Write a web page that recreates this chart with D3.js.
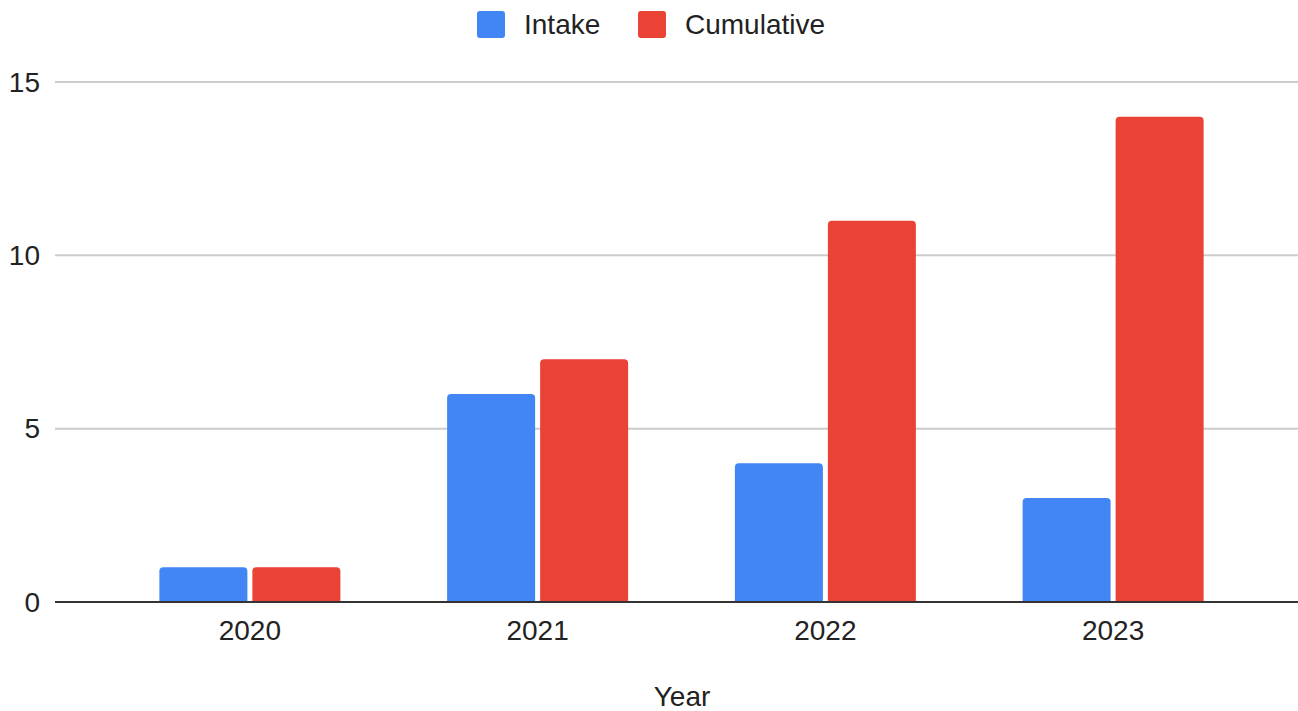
<!DOCTYPE html>
<html>
<head>
<meta charset="utf-8">
<script src="https://cdn.jsdelivr.net/npm/d3@7"></script>
<style>
  body { margin: 0; background: #fff; }
  text { font-family: "Liberation Sans", Arial, sans-serif; fill: #222; }
</style>
</head>
<body>
<script>
var years = ['2020', '2021', '2022', '2023'];
var seriesNames = ['Intake', 'Cumulative'];
var intake = [1, 6, 4, 3];
var cumulative = [1, 7, 11, 14];
var yTicks = [0, 5, 10, 15];
var colors = ['#4285F4', '#EA4335'];

var w = 1298, h = 711;
var svg = d3.select('body').append('svg')
    .attr('width', w)
    .attr('height', h);

var x = d3.scaleBand().domain(years).range([106, 1257]);
var y = d3.scaleLinear().domain([0, 15]).range([602, 82]);
var groupW = 181;
var xs = d3.scaleBand().domain(seriesNames).range([0, groupW]).paddingInner(5 / 93);

// gridlines
svg.append('g').selectAll('line')
    .data(yTicks.filter(function(d) { return d > 0; }))
    .enter().append('line')
    .attr('x1', 55).attr('x2', w)
    .attr('y1', function(d) { return y(d); })
    .attr('y2', function(d) { return y(d); })
    .attr('stroke', '#cccccc')
    .attr('stroke-width', 2);

// y labels
svg.append('g').selectAll('text')
    .data(yTicks)
    .enter().append('text')
    .attr('x', 40)
    .attr('y', function(d) { return y(d); })
    .attr('dy', '0.35em')
    .attr('text-anchor', 'end')
    .attr('font-size', '28px')
    .text(function(d) { return d; });

// rounded-top bar path
function barPath(x0, y0, bw, bh, r) {
    r = Math.min(r, bh, bw / 2);
    return 'M' + x0 + ',' + (y0 + bh) +
        'V' + (y0 + r) +
        'Q' + x0 + ',' + y0 + ' ' + (x0 + r) + ',' + y0 +
        'H' + (x0 + bw - r) +
        'Q' + (x0 + bw) + ',' + y0 + ' ' + (x0 + bw) + ',' + (y0 + r) +
        'V' + (y0 + bh) + 'Z';
}

var rows = [];
years.forEach(function(yr, i) {
    rows.push({ year: yr, s: 'Intake', v: intake[i], c: colors[0] });
    rows.push({ year: yr, s: 'Cumulative', v: cumulative[i], c: colors[1] });
});

svg.append('g').selectAll('path')
    .data(rows)
    .enter().append('path')
    .attr('fill', function(d) { return d.c; })
    .attr('d', function(d) {
        var x0 = x(d.year) + x.bandwidth() / 2 - groupW / 2 + xs(d.s);
        return barPath(x0, y(d.v), xs.bandwidth(), y(0) - y(d.v), 4);
    });

// baseline
svg.append('line')
    .attr('x1', 55).attr('x2', w)
    .attr('y1', y(0)).attr('y2', y(0))
    .attr('stroke', '#333')
    .attr('stroke-width', 2);

// x labels
svg.append('g').selectAll('text')
    .data(years)
    .enter().append('text')
    .attr('x', function(d) { return x(d) + x.bandwidth() / 2; })
    .attr('y', 630)
    .attr('dy', '0.35em')
    .attr('text-anchor', 'middle')
    .attr('font-size', '28px')
    .text(function(d) { return d; });

svg.append('text')
    .attr('x', 682).attr('y', 696)
    .attr('dy', '0.35em')
    .attr('text-anchor', 'middle')
    .attr('font-size', '28px')
    .text('Year');

// legend
var legX = [477, 638];
var leg = svg.append('g').selectAll('g')
    .data(seriesNames)
    .enter().append('g')
    .attr('transform', function(d, i) { return 'translate(' + legX[i] + ',11)'; });
leg.append('rect')
    .attr('width', 28).attr('height', 27)
    .attr('rx', 3)
    .attr('fill', function(d, i) { return colors[i]; });
leg.append('text')
    .attr('x', 47).attr('y', 13.5)
    .attr('dy', '0.35em')
    .attr('font-size', '28px')
    .text(function(d) { return d; });
</script>
</body>
</html>
